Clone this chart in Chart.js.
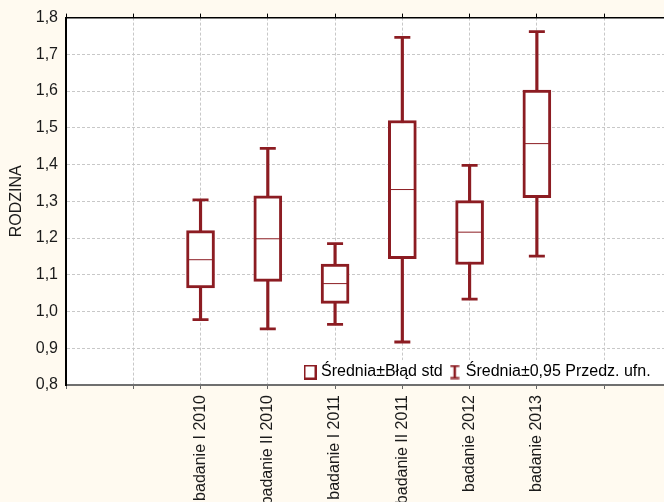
<!DOCTYPE html>
<html>
<head>
<meta charset="utf-8">
<script src="https://cdn.jsdelivr.net/npm/chart.js@4.4.1/dist/chart.umd.min.js"></script>
<style>
html, body { margin: 0; padding: 0; background: #fffaf0; overflow: hidden; }
canvas { display: block; }
</style>
</head>
<body>
<canvas id="c" width="664" height="502"></canvas>
<script>
// ---- data ----
const categories = ['badanie I 2010', 'badanie II 2010', 'badanie I 2011', 'badanie II 2011', 'badanie 2012', 'badanie 2013'];
const xSlots = ['', '', 'badanie I 2010', 'badanie II 2010', 'badanie I 2011', 'badanie II 2011', 'badanie 2012', 'badanie 2013', ''];
const means  = [1.141, 1.198, 1.076, 1.332, 1.216, 1.457];
const seLow  = [1.064, 1.082, 1.022, 1.144, 1.128, 1.310];
const seHigh = [1.220, 1.315, 1.129, 1.520, 1.302, 1.603];
const ciLow  = [0.978, 0.953, 0.965, 0.917, 1.034, 1.151];
const ciHigh = [1.304, 1.444, 1.185, 1.746, 1.398, 1.762];
const yTickLabels = ['0,8', '0,9', '1,0', '1,1', '1,2', '1,3', '1,4', '1,5', '1,6', '1,7', '1,8'];
const yTitle = 'RODZINA';
const legendLabels = ['Średnia±Błąd std', 'Średnia±0,95 Przedz. ufn.'];

// ---- style ----
const RED = '#8c1c22';
const TEXT = '#1a1a1a';
const GRID = '#c8c8c8';
const FONT = "'Liberation Sans', Arial, sans-serif";
Chart.defaults.font.family = FONT;
Chart.defaults.font.size = 16;
Chart.defaults.color = TEXT;

const xOf = (i) => xSlots.indexOf(categories[i]);

function makeIcon(kind) {
  const c = document.createElement('canvas');
  c.width = kind === 'box' ? 13 : 10;
  c.height = 15;
  const g = c.getContext('2d');
  g.strokeStyle = RED;
  if (kind === 'box') {
    g.lineWidth = 2;
    g.fillStyle = '#ffffff';
    g.fillRect(1, 1, 11, 13);
    g.strokeRect(1, 1, 11, 13);
  } else {
    g.lineWidth = 2;
    g.beginPath();
    g.moveTo(0.5, 1.5); g.lineTo(9.5, 1.5);
    g.moveTo(0.5, 13.5); g.lineTo(9.5, 13.5);
    g.stroke();
    g.lineWidth = 2.5;
    g.beginPath();
    g.moveTo(5, 1.5); g.lineTo(5, 13.5);
    g.stroke();
  }
  return c;
}
const boxIcon = makeIcon('box');
const barIcon = makeIcon('bar');

const bgPlugin = {
  id: 'bgPlugin',
  beforeDraw(chart) {
    const { ctx, chartArea: a } = chart;
    ctx.save();
    ctx.fillStyle = '#fffaf0';
    ctx.fillRect(0, 0, chart.width, chart.height);
    ctx.fillStyle = '#ffffff';
    ctx.fillRect(a.left, a.top, a.right - a.left, a.bottom - a.top);
    ctx.restore();
  }
};

// place the library legend inside the plot area, bottom right, on a white patch
const legendPlacer = {
  id: 'legendPlacer',
  beforeLayout(chart) {
    const lg = chart.legend;
    if (!lg || lg._placed) return;
    lg._placed = true;
    const proto = Object.getPrototypeOf(lg);
    lg.fit = function () {
      proto.fit.call(this);
      this._rowH = this.height;
      this.height = 0;
    };
    lg._layers = function () {
      return [{
        z: 1,
        draw: (area) => {
          const ctx = chart.ctx;
          const pad = lg.options.labels.padding;
          ctx.save();
          ctx.fillStyle = '#ffffff';
          ctx.fillRect(lg.left + pad - 5, lg.top + pad - 4, lg.lineWidths[0] + 2, 24);
          ctx.restore();
          lg.draw(area);
        }
      }];
    };
  },
  afterLayout(chart) {
    const lg = chart.legend;
    const a = chart.chartArea;
    const pad = lg.options.labels.padding;
    lg.left = a.left + 241 - pad;
    lg.right = chart.width + 40;
    lg.top = a.bottom - 13 - 8 - pad;
    lg.bottom = lg.top + lg._rowH + 4;
    lg.width = lg.right - lg.left;
    lg.height = lg.bottom - lg.top;
  }
};

const noSidePadding = (s, h) => { s.height = h; s.paddingLeft = 0; s.paddingRight = 0; };

const ctx = document.getElementById('c').getContext('2d');
new Chart(ctx, {
  type: 'bar',
  data: {
    datasets: [
      {
        label: 'ci',
        type: 'bar',
        data: categories.map((c, i) => ({ x: xOf(i), y: [ciLow[i], ciHigh[i]] })),
        backgroundColor: RED,
        borderWidth: 0,
        grouped: false,
        barPercentage: 1,
        categoryPercentage: 1,
        maxBarThickness: 2.5,
        order: 4
      },
      {
        label: 'se',
        type: 'bar',
        data: categories.map((c, i) => ({ x: xOf(i), y: [seLow[i], seHigh[i]] })),
        backgroundColor: '#ffffff',
        borderColor: RED,
        borderWidth: 3,
        borderSkipped: false,
        grouped: false,
        barPercentage: 1,
        categoryPercentage: 1,
        maxBarThickness: 28,
        order: 3
      },
      {
        label: 'mean',
        type: 'scatter',
        data: categories.map((c, i) => ({ x: xOf(i), y: means[i] })),
        pointStyle: 'line',
        pointRadius: 12,
        pointHoverRadius: 12,
        borderColor: RED,
        borderWidth: 1,
        order: 2
      },
      {
        label: 'caps',
        type: 'scatter',
        data: categories.flatMap((c, i) => [{ x: xOf(i), y: ciLow[i] }, { x: xOf(i), y: ciHigh[i] }]),
        pointStyle: 'line',
        pointRadius: 8,
        pointHoverRadius: 8,
        borderColor: RED,
        borderWidth: 2.8,
        order: 1
      }
    ]
  },
  options: {
    responsive: false,
    animation: false,
    events: [],
    layout: { padding: 0, autoPadding: false },
    plugins: {
      tooltip: { enabled: false },
      legend: {
        display: true,
        position: 'bottom',
        align: 'start',
        labels: {
          usePointStyle: true,
          pointStyleWidth: 6,
          boxHeight: 15,
          padding: 9,
          color: TEXT,
          font: { family: FONT, size: 16 },
          generateLabels: () => [
            { text: legendLabels[0], pointStyle: boxIcon, fillStyle: '#ffffff', strokeStyle: RED, lineWidth: 0, hidden: false, datasetIndex: 1 },
            { text: legendLabels[1], pointStyle: barIcon, fillStyle: RED, strokeStyle: RED, lineWidth: 0, hidden: false, datasetIndex: 0 }
          ]
        }
      }
    },
    scales: {
      x: {
        type: 'linear',
        position: 'bottom',
        offset: false,
        min: 0,
        max: 8.89,
        afterFit: (s) => noSidePadding(s, 117),
        ticks: {
          stepSize: 1,
          includeBounds: false,
          autoSkip: false,
          minRotation: 90,
          maxRotation: 90,
          padding: 6,
          color: TEXT,
          font: { size: 16 },
          callback: (v) => (Number.isInteger(v) && xSlots[v] !== undefined ? xSlots[v] : '')
        },
        grid: {
          offset: false,
          color: (c) => (c.tick && c.tick.value === 0 ? 'rgba(0,0,0,0)' : GRID),
          lineWidth: 1,
          drawTicks: true,
          tickLength: 4,
          tickColor: '#666666',
          tickWidth: 1
        },
        border: { display: true, color: '#6f6f6f', width: 2, dash: [3, 2] }
      },
      x2: {
        type: 'linear',
        position: 'top',
        offset: false,
        min: 0,
        max: 8.89,
        afterFit: (s) => noSidePadding(s, 16),
        ticks: { stepSize: 1, includeBounds: false, display: false },
        grid: {
          offset: false,
          drawOnChartArea: false,
          drawTicks: true,
          tickLength: 4,
          tickColor: '#000000',
          tickWidth: 1
        },
        border: { display: true, color: '#000000', width: 1.5 }
      },
      y: {
        type: 'linear',
        position: 'left',
        min: 0.8,
        max: 1.8,
        afterFit: (s) => { s.width = 66; },
        ticks: {
          stepSize: 0.1,
          padding: 8,
          color: TEXT,
          font: { size: 16 },
          callback: (v) => yTickLabels[Math.round((v - 0.8) * 10)]
        },
        grid: {
          color: (c) => {
            const v = c.tick ? c.tick.value : 0;
            return (v < 0.85 || v > 1.75) ? 'rgba(0,0,0,0)' : GRID;
          },
          lineWidth: 1,
          drawTicks: false
        },
        border: { display: true, color: '#000000', width: 2, dash: [3, 2] },
        title: {
          display: true,
          text: yTitle,
          color: TEXT,
          font: { size: 16 },
          padding: { top: 7, bottom: 0 }
        }
      }
    }
  },
  plugins: [bgPlugin, legendPlacer]
});
</script>
</body>
</html>
